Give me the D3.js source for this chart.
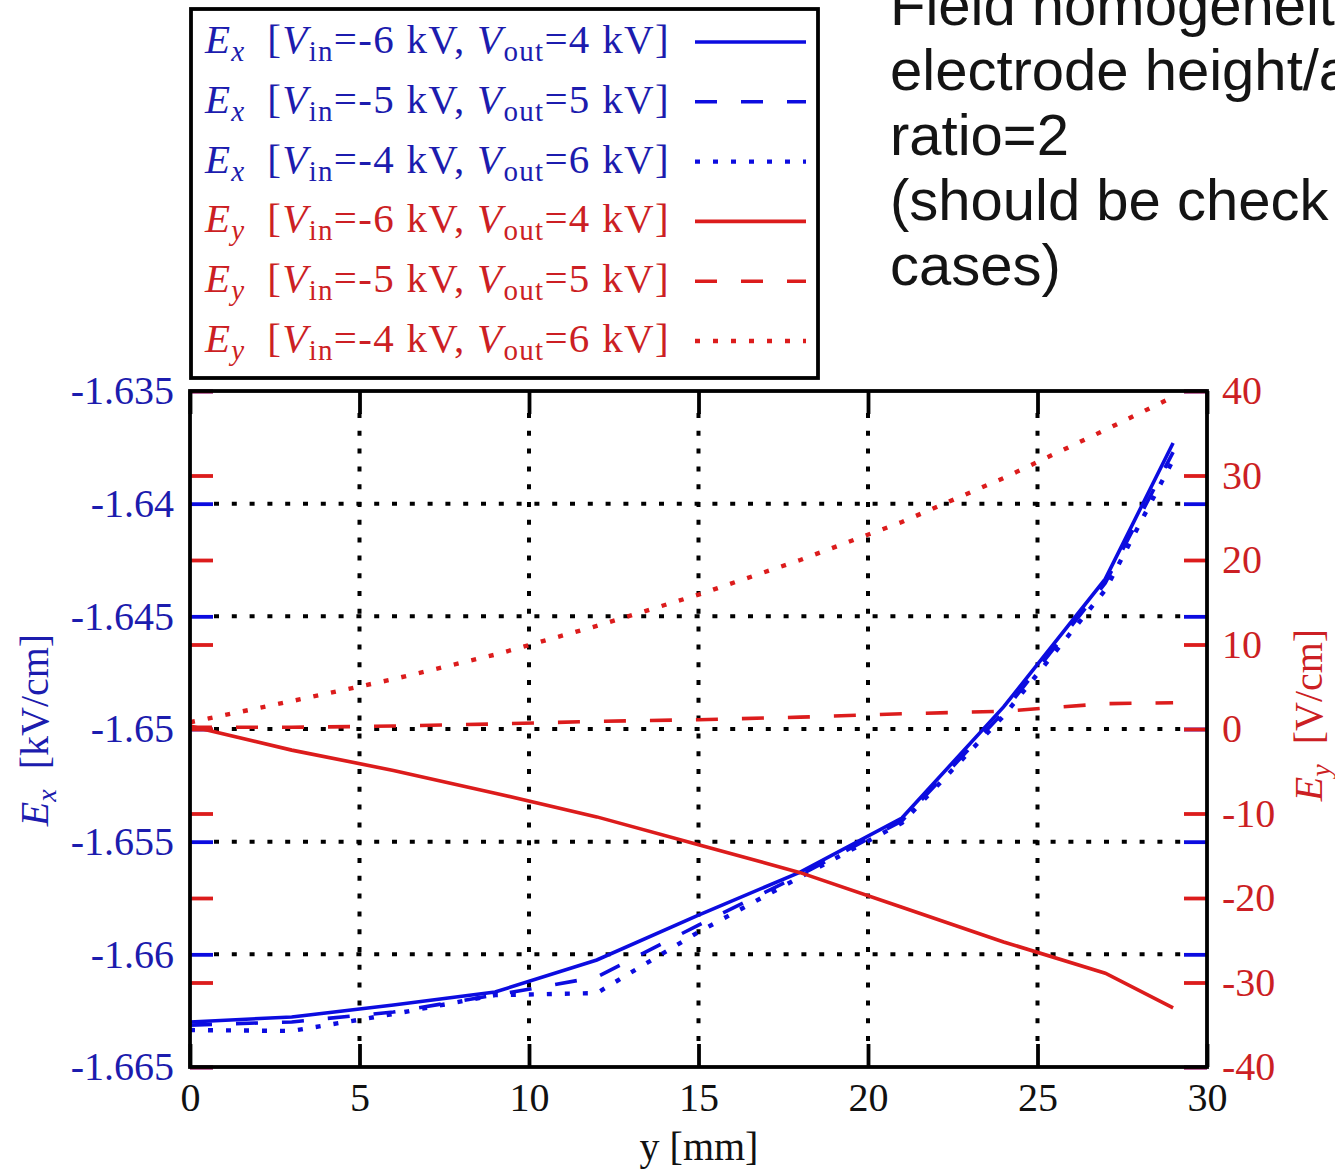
<!DOCTYPE html>
<html>
<head>
<meta charset="utf-8">
<script src="https://cdn.jsdelivr.net/npm/d3@7"></script>
<style>
  html, body { margin: 0; padding: 0; background: #fff; }
  svg { display: block; }
</style>
</head>
<body>
<svg id="chart" width="1335" height="1170"></svg>
<script>
// ---------------- data ----------------
const yPos = [0, 3, 6, 9, 12, 15, 18, 21, 24, 27, 29];               // y [mm]
const exSolid  = [-1.66300, -1.66278, -1.66225, -1.66167, -1.66025, -1.65826, -1.65635, -1.65395, -1.64902, -1.64334, -1.63731];
const exDashed = [-1.66314, -1.66300, -1.66256, -1.66181, -1.66101, -1.65870, -1.65648, -1.65408, -1.64925, -1.64352, -1.63771];
const exDotted = [-1.66336, -1.66340, -1.66265, -1.66181, -1.66172, -1.65901, -1.65657, -1.65417, -1.64942, -1.64383, -1.63806];
const eySolid  = [0.35, -2.5, -4.9, -7.6, -10.4, -13.7, -17.0, -21.1, -25.2, -28.9, -33.0];
const eyDashed = [0.2, 0.2, 0.35, 0.6, 0.9, 1.1, 1.4, 1.8, 2.1, 3.0, 3.1];
const eyDotted = [0.8, 3.3, 5.9, 8.8, 12.2, 15.9, 20.0, 24.5, 29.7, 35.4, 39.3];

const xTicks = [0, 5, 10, 15, 20, 25, 30];
const xTickLabels = ["0", "5", "10", "15", "20", "25", "30"];
const leftTicks = [-1.665, -1.66, -1.655, -1.65, -1.645, -1.64, -1.635];
const leftTickLabels = ["-1.665", "-1.66", "-1.655", "-1.65", "-1.645", "-1.64", "-1.635"];
const rightTicks = [-40, -30, -20, -10, 0, 10, 20, 30, 40];
const rightTickLabels = ["-40", "-30", "-20", "-10", "0", "10", "20", "30", "40"];

const legendComp = ["x", "x", "x", "y", "y", "y"];
const legendVin  = ["-6", "-5", "-4", "-6", "-5", "-4"];
const legendVout = ["4", "5", "6", "4", "5", "6"];
const titleLines = ["Field homogeneit", "electrode height/a", "ratio=2", "(should be check", "cases)"];

// ---------------- styles ----------------
const BLUE = "#0c0ce0", RED = "#dc1c1c";
const BLUE_TXT = "#1c1cae", RED_TXT = "#cc1f24";
const SERIF = "'Liberation Serif', 'DejaVu Serif', serif";
const dashSolid = null, dashDashed = "22,24", dashDotted = "5,13";

const svg = d3.select("#chart");
const L = 190, R = 1207, T = 391, B = 1067;
const x = d3.scaleLinear().domain([0, 30]).range([L, R]);
const yL = d3.scaleLinear().domain([-1.665, -1.635]).range([B, T]);
const yR = d3.scaleLinear().domain([-40, 40]).range([B, T]);

// ---------------- grid ----------------
const grid = svg.append("g").attr("stroke", "#000").attr("stroke-width", 4)
  .attr("stroke-dasharray", "5,12.8").attr("fill", "none");
grid.selectAll("line.gx").data(xTicks.slice(1, -1)).join("line")
  .attr("class", "gx")
  .attr("x1", d => x(d)).attr("x2", d => x(d)).attr("y1", T + 22).attr("y2", B - 22);
grid.selectAll("line.gy").data(leftTicks.slice(1, -1)).join("line")
  .attr("class", "gy")
  .attr("x1", L + 24).attr("x2", R - 22).attr("y1", d => yL(d)).attr("y2", d => yL(d));

// ---------------- inner ticks ----------------
function innerTicks(axis, tx, ty, color) {
  const g = svg.append("g").attr("transform", `translate(${tx},${ty})`).call(axis);
  g.select(".domain").remove();
  g.selectAll(".tick text").remove();
  g.selectAll(".tick line").attr("stroke", color).attr("stroke-width", 3.8);
}
innerTicks(d3.axisRight(yL).tickValues(leftTicks).tickSize(23), L, 0, BLUE);
innerTicks(d3.axisRight(yR).tickValues(rightTicks).tickSize(23), L, 0, RED);
innerTicks(d3.axisLeft(yL).tickValues(leftTicks).tickSize(23), R, 0, BLUE);
innerTicks(d3.axisLeft(yR).tickValues(rightTicks).tickSize(23), R, 0, RED);
innerTicks(d3.axisTop(x).tickValues(xTicks).tickSize(23), 0, B, "#000");
innerTicks(d3.axisBottom(x).tickValues(xTicks).tickSize(23), 0, T, "#000");

// ---------------- lines ----------------
const series = [
  { vals: exSolid,  scale: yL, color: BLUE, dash: dashSolid },
  { vals: exDashed, scale: yL, color: BLUE, dash: dashDashed },
  { vals: exDotted, scale: yL, color: BLUE, dash: dashDotted },
  { vals: eySolid,  scale: yR, color: RED,  dash: dashSolid },
  { vals: eyDashed, scale: yR, color: RED,  dash: dashDashed },
  { vals: eyDotted, scale: yR, color: RED,  dash: dashDotted },
];
series.forEach(s => {
  const line = d3.line().x((d, i) => x(yPos[i])).y(d => s.scale(d));
  svg.append("path").datum(s.vals).attr("d", line)
    .attr("fill", "none").attr("stroke", s.color)
    .attr("stroke-width", s.dash === dashDotted ? 4.4 : 3.6)
    .attr("stroke-dasharray", s.dash);
});

// ---------------- frame ----------------
svg.append("rect").attr("x", L).attr("y", T).attr("width", R - L).attr("height", B - T)
  .attr("fill", "none").attr("stroke", "#000").attr("stroke-width", 3.8);

// ---------------- axis labels ----------------
function labelAxis(axis, tx, ty, labels, color, anchor) {
  const g = svg.append("g").attr("transform", `translate(${tx},${ty})`).call(axis);
  g.select(".domain").remove();
  g.selectAll(".tick line").remove();
  g.selectAll(".tick text").text((d, i) => labels[i])
    .attr("fill", color).attr("font-family", SERIF).attr("font-size", 40);
  if (anchor) g.selectAll(".tick text").attr("text-anchor", anchor);
  return g;
}
labelAxis(d3.axisLeft(yL).tickValues(leftTicks).tickSize(0).tickPadding(16), L, 0, leftTickLabels, BLUE_TXT);
labelAxis(d3.axisRight(yR).tickValues(rightTicks).tickSize(0).tickPadding(15), R, 0, rightTickLabels, RED_TXT);
labelAxis(d3.axisBottom(x).tickValues(xTicks).tickSize(0).tickPadding(16), 0, B, xTickLabels, "#111");

// axis titles
svg.append("text").attr("x", 699).attr("y", 1160)
  .attr("text-anchor", "middle").attr("font-family", SERIF).attr("font-size", 40).attr("fill", "#111")
  .text("y [mm]");

function fieldTitle(cx, cy, comp, unit, color) {
  const t = svg.append("text").attr("transform", `translate(${cx},${cy}) rotate(-90)`)
    .attr("text-anchor", "middle").attr("font-family", SERIF).attr("font-size", 40).attr("fill", color);
  t.append("tspan").attr("font-style", "italic").text("E");
  t.append("tspan").attr("font-style", "italic").attr("font-size", 28).attr("dy", 8).text(comp);
  t.append("tspan").attr("dy", -8).text("\u2002[" + unit + "]");
}
fieldTitle(48, 730, "x", "kV/cm", BLUE_TXT);
fieldTitle(1322, 715, "y", "V/cm", RED_TXT);

// ---------------- legend ----------------
const lg = svg.append("g");
lg.append("rect").attr("x", 191).attr("y", 9).attr("width", 627).attr("height", 369)
  .attr("fill", "#fff").attr("stroke", "#000").attr("stroke-width", 3.8);
series.forEach((s, i) => {
  const cy = 42 + i * 59.8;
  const col = i < 3 ? BLUE_TXT : RED_TXT;
  const t = lg.append("text").attr("x", 205).attr("y", cy + 11)
    .attr("font-family", SERIF).attr("font-size", 41).attr("fill", col)
    .attr("letter-spacing", 1.3);
  t.append("tspan").attr("font-style", "italic").text("E");
  t.append("tspan").attr("font-style", "italic").attr("font-size", 29).attr("dy", 8).text(legendComp[i]);
  t.append("tspan").attr("dy", -8).text("\u2002[");
  t.append("tspan").attr("font-style", "italic").text("V");
  t.append("tspan").attr("font-size", 29).attr("dy", 8).text("in");
  t.append("tspan").attr("dy", -8).text("=" + legendVin[i] + " kV, ");
  t.append("tspan").attr("font-style", "italic").text("V");
  t.append("tspan").attr("font-size", 29).attr("dy", 8).text("out");
  t.append("tspan").attr("dy", -8).text("=" + legendVout[i] + " kV]");
  lg.append("line").attr("x1", 695).attr("x2", 806).attr("y1", cy).attr("y2", cy)
    .attr("stroke", s.color).attr("stroke-width", s.dash === dashDotted ? 4.4 : 3.6)
    .attr("stroke-dasharray", s.dash);
});

// ---------------- slide text ----------------
const tt = svg.append("text").attr("font-family", "'Liberation Sans', Arial, sans-serif")
  .attr("font-size", 58).attr("fill", "#141414");
titleLines.forEach((s, i) => {
  tt.append("tspan").attr("x", 890).attr("y", 25 + i * 65).text(s);
});
</script>
</body>
</html>
